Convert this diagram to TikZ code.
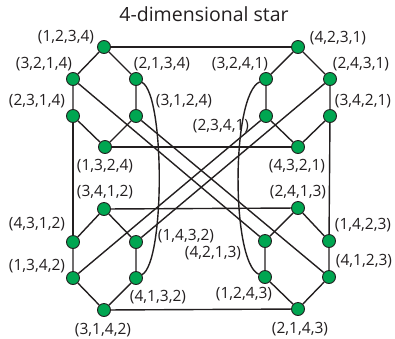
\documentclass[tikz,border=0pt]{standalone}
\usepackage{fontspec}
\setmainfont{Open Sans}
\usetikzlibrary{positioning}
\definecolor{vgreen}{RGB}{0,166,81}
\definecolor{ink}{RGB}{35,31,32}

\begin{document}
\begin{tikzpicture}[x=1pt, y=-1pt,
    vtx/.style={circle, draw=ink, line width=0.9pt, fill=vgreen,
                minimum size=13pt, inner sep=0pt},
    lbl/.style={font=\fontsize{15.5}{17}\selectfont, text=ink, inner sep=0pt},
    edge/.style={draw=ink, line width=1.4pt}
  ]
  \useasboundingbox (0,0) rectangle (395,338);

  \node[font=\fontsize{19.5}{22}\selectfont, text=ink, inner sep=0pt] (title) at (204,14) {4-dimensional star};

  % top left hexagon
  \node[vtx] (p1234) at (104,47) {};
  \node[vtx] (p3214) at (73,79) {};
  \node[vtx] (p2134) at (136,79) {};
  \node[vtx] (p2314) at (73,116) {};
  \node[vtx] (p3124) at (136,116) {};
  \node[vtx] (p1324) at (105,147) {};

  % top right hexagon
  \node[vtx] (p4231) at (298,47) {};
  \node[vtx] (p3241) at (266,79) {};
  \node[vtx] (p2431) at (330,79) {};
  \node[vtx] (p2341) at (266,116) {};
  \node[vtx] (p3421) at (330,116) {};
  \node[vtx] (p4321) at (298,147) {};

  % bottom left hexagon
  \node[vtx] (p3412) at (104,209) {};
  \node[vtx] (p4312) at (73,242) {};
  \node[vtx] (p1432) at (136,242) {};
  \node[vtx] (p1342) at (73,278) {};
  \node[vtx] (p4132) at (136,278) {};
  \node[vtx] (p3142) at (104,310) {};

  % bottom right hexagon
  \node[vtx] (p2413) at (298,208) {};
  \node[vtx] (p4213) at (265,241) {};
  \node[vtx] (p1423) at (329,241) {};
  \node[vtx] (p1243) at (265,277) {};
  \node[vtx] (p4123) at (329,277) {};
  \node[vtx] (p2143) at (298,309) {};

  % hexagon edges
  \draw[edge] (p1234) -- (p3214) -- (p2314) -- (p1324) -- (p3124) -- (p2134) -- (p1234);
  \draw[edge] (p4231) -- (p3241) -- (p2341) -- (p4321) -- (p3421) -- (p2431) -- (p4231);
  \draw[edge] (p3412) -- (p4312) -- (p1342) -- (p3142) -- (p4132) -- (p1432) -- (p3412);
  \draw[edge] (p2413) -- (p4213) -- (p1243) -- (p2143) -- (p4123) -- (p1423) -- (p2413);

  % edges between hexagons
  \draw[edge] (p1234) -- (p4231);
  \draw[edge] (p1324) -- (p4321);
  \draw[edge] (p3412) -- (p2413);
  \draw[edge] (p3142) -- (p2143);
  \draw[edge] (p2314) -- (p4312);
  \draw[edge] (p3421) -- (p1423);
  \draw[edge] (p3214) -- (p4213);
  \draw[edge] (p3124) -- (p4123);
  \draw[edge] (p2431) -- (p1432);
  \draw[edge] (p2341) -- (p1342);
  \draw[edge] (p2134) .. controls (165,95) and (165,262) .. (p4132);
  \draw[edge] (p3241) .. controls (231,95) and (231,262) .. (p1243);

  % labels
  \node[lbl] (l1234) at (66,37) {(1,2,3,4)};
  \node[lbl] (l3214) at (44,64) {(3,2,1,4)};
  \node[lbl] (l2134) at (162,64) {(2,1,3,4)};
  \node[lbl] (l2314) at (37,101) {(2,3,1,4)};
  \node[lbl] (l3124) at (184,101) {(3,1,2,4)};
  \node[lbl] (l1324) at (105,166) {(1,3,2,4)};

  \node[lbl] (l4231) at (338,38) {(4,2,3,1)};
  \node[lbl] (l3241) at (240,64) {(3,2,4,1)};
  \node[lbl] (l2431) at (361,64) {(2,4,3,1)};
  \node[lbl] (l2341) at (221,126) {(2,3,4,1)};
  \node[lbl] (l3421) at (363,101) {(3,4,2,1)};
  \node[lbl] (l4321) at (297,166) {(4,3,2,1)};

  \node[lbl] (l3412) at (105,192) {(3,4,1,2)};
  \node[lbl] (l4312) at (37,224) {(4,3,1,2)};
  \node[lbl] (l1432) at (186,236) {(1,4,3,2)};
  \node[lbl] (l1342) at (37,266) {(1,3,4,2)};
  \node[lbl] (l4132) at (158,297) {(4,1,3,2)};
  \node[lbl] (l3142) at (103,330) {(3,1,4,2)};

  \node[lbl] (l2413) at (298,192) {(2,4,1,3)};
  \node[lbl] (l4213) at (213,253) {(4,2,1,3)};
  \node[lbl] (l1423) at (363,225) {(1,4,2,3)};
  \node[lbl] (l1243) at (244,294) {(1,2,4,3)};
  \node[lbl] (l4123) at (364,261) {(4,1,2,3)};
  \node[lbl] (l2143) at (300,329) {(2,1,4,3)};
\end{tikzpicture}
\end{document}
